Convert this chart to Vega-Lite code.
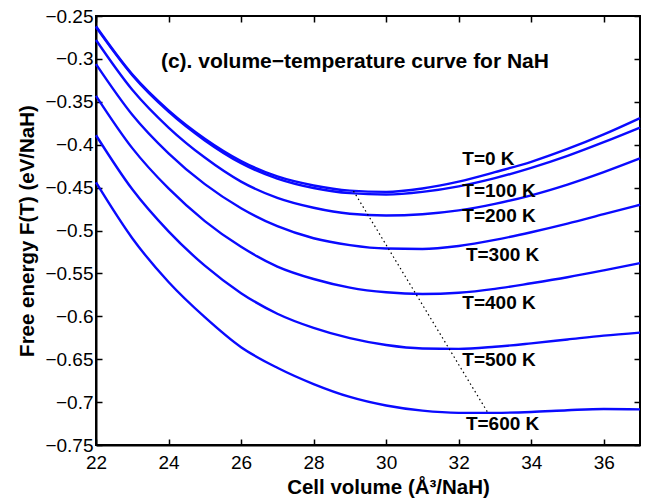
{
  "$schema": "https://vega.github.io/schema/vega-lite/v6.json",
  "width": 544,
  "height": 429,
  "autosize": {"type": "none"},
  "padding": {"left": 96, "top": 16, "right": 9, "bottom": 54},
  "background": "white",
  "config": {
    "font": "Liberation Sans",
    "view": {"stroke": "black", "strokeWidth": 2},
    "axis": {
      "grid": false,
      "domainColor": "black",
      "domainWidth": 2,
      "tickColor": "black",
      "tickWidth": 1.5,
      "tickSize": -6,
      "labelColor": "black",
      "labelFont": "Liberation Sans",
      "labelFontSize": 19,
      "titleFont": "Liberation Sans",
      "titleFontSize": 20.5,
      "titleFontWeight": "bold",
      "titleColor": "black"
    }
  },
  "datasets": {
    "curves": [
      {"T": "0", "V": 22, "F": -0.262}, {"T": "0", "V": 23, "F": -0.318}, {"T": "0", "V": 24, "F": -0.36}, {"T": "0", "V": 25, "F": -0.393},
      {"T": "0", "V": 26, "F": -0.419}, {"T": "0", "V": 27, "F": -0.437}, {"T": "0", "V": 28, "F": -0.4475}, {"T": "0", "V": 29, "F": -0.4535},
      {"T": "0", "V": 30, "F": -0.455}, {"T": "0", "V": 31, "F": -0.451}, {"T": "0", "V": 32, "F": -0.443}, {"T": "0", "V": 33, "F": -0.432},
      {"T": "0", "V": 34, "F": -0.42}, {"T": "0", "V": 35, "F": -0.405}, {"T": "0", "V": 36, "F": -0.388}, {"T": "0", "V": 37, "F": -0.369},

      {"T": "100", "V": 22, "F": -0.263}, {"T": "100", "V": 23, "F": -0.319}, {"T": "100", "V": 24, "F": -0.3615}, {"T": "100", "V": 25, "F": -0.395},
      {"T": "100", "V": 26, "F": -0.4215}, {"T": "100", "V": 27, "F": -0.4395}, {"T": "100", "V": 28, "F": -0.4505}, {"T": "100", "V": 29, "F": -0.4565},
      {"T": "100", "V": 30, "F": -0.458}, {"T": "100", "V": 31, "F": -0.455}, {"T": "100", "V": 32, "F": -0.4485}, {"T": "100", "V": 33, "F": -0.439},
      {"T": "100", "V": 34, "F": -0.427}, {"T": "100", "V": 35, "F": -0.413}, {"T": "100", "V": 36, "F": -0.397}, {"T": "100", "V": 37, "F": -0.38},

      {"T": "200", "V": 22, "F": -0.278}, {"T": "200", "V": 23, "F": -0.336}, {"T": "200", "V": 24, "F": -0.38}, {"T": "200", "V": 25, "F": -0.415},
      {"T": "200", "V": 26, "F": -0.443}, {"T": "200", "V": 27, "F": -0.462}, {"T": "200", "V": 28, "F": -0.4735}, {"T": "200", "V": 29, "F": -0.4805},
      {"T": "200", "V": 30, "F": -0.4825}, {"T": "200", "V": 31, "F": -0.481}, {"T": "200", "V": 32, "F": -0.4765}, {"T": "200", "V": 33, "F": -0.469},
      {"T": "200", "V": 34, "F": -0.459}, {"T": "200", "V": 35, "F": -0.4465}, {"T": "200", "V": 36, "F": -0.432}, {"T": "200", "V": 37, "F": -0.416},

      {"T": "300", "V": 22, "F": -0.306}, {"T": "300", "V": 23, "F": -0.365}, {"T": "300", "V": 24, "F": -0.41}, {"T": "300", "V": 25, "F": -0.446},
      {"T": "300", "V": 26, "F": -0.474}, {"T": "300", "V": 27, "F": -0.495}, {"T": "300", "V": 28, "F": -0.509}, {"T": "300", "V": 29, "F": -0.517},
      {"T": "300", "V": 30, "F": -0.521}, {"T": "300", "V": 31, "F": -0.5215}, {"T": "300", "V": 32, "F": -0.518}, {"T": "300", "V": 33, "F": -0.511},
      {"T": "300", "V": 34, "F": -0.502}, {"T": "300", "V": 35, "F": -0.492}, {"T": "300", "V": 36, "F": -0.481}, {"T": "300", "V": 37, "F": -0.47},

      {"T": "400", "V": 22, "F": -0.343}, {"T": "400", "V": 23, "F": -0.404}, {"T": "400", "V": 24, "F": -0.451}, {"T": "400", "V": 25, "F": -0.489},
      {"T": "400", "V": 26, "F": -0.519}, {"T": "400", "V": 27, "F": -0.542}, {"T": "400", "V": 28, "F": -0.5565}, {"T": "400", "V": 29, "F": -0.5665},
      {"T": "400", "V": 30, "F": -0.572}, {"T": "400", "V": 31, "F": -0.574}, {"T": "400", "V": 32, "F": -0.5725}, {"T": "400", "V": 33, "F": -0.568},
      {"T": "400", "V": 34, "F": -0.5615}, {"T": "400", "V": 35, "F": -0.5545}, {"T": "400", "V": 36, "F": -0.5465}, {"T": "400", "V": 37, "F": -0.538},

      {"T": "500", "V": 22, "F": -0.389}, {"T": "500", "V": 23, "F": -0.452}, {"T": "500", "V": 24, "F": -0.501}, {"T": "500", "V": 25, "F": -0.541},
      {"T": "500", "V": 26, "F": -0.573}, {"T": "500", "V": 27, "F": -0.597}, {"T": "500", "V": 28, "F": -0.6135}, {"T": "500", "V": 29, "F": -0.6255},
      {"T": "500", "V": 30, "F": -0.6335}, {"T": "500", "V": 31, "F": -0.6375}, {"T": "500", "V": 32, "F": -0.638}, {"T": "500", "V": 33, "F": -0.6355},
      {"T": "500", "V": 34, "F": -0.6315}, {"T": "500", "V": 35, "F": -0.627}, {"T": "500", "V": 36, "F": -0.6225}, {"T": "500", "V": 37, "F": -0.619},

      {"T": "600", "V": 22, "F": -0.444}, {"T": "600", "V": 23, "F": -0.509}, {"T": "600", "V": 24, "F": -0.56}, {"T": "600", "V": 25, "F": -0.601},
      {"T": "600", "V": 26, "F": -0.636}, {"T": "600", "V": 27, "F": -0.66}, {"T": "600", "V": 28, "F": -0.679}, {"T": "600", "V": 29, "F": -0.694},
      {"T": "600", "V": 30, "F": -0.704}, {"T": "600", "V": 31, "F": -0.71}, {"T": "600", "V": 32, "F": -0.7125}, {"T": "600", "V": 33, "F": -0.7125},
      {"T": "600", "V": 34, "F": -0.7115}, {"T": "600", "V": 35, "F": -0.7095}, {"T": "600", "V": 36, "F": -0.708}, {"T": "600", "V": 37, "F": -0.7085}
    ],
    "minline": [
      {"V": 29.1, "F": -0.454},
      {"V": 32.8, "F": -0.712}
    ],
    "labels": [
      {"label": "T=0 K", "V": 32.1, "F": -0.4172},
      {"label": "T=100 K", "V": 32.1, "F": -0.454},
      {"label": "T=200 K", "V": 32.1, "F": -0.4836},
      {"label": "T=300 K", "V": 32.2, "F": -0.5285},
      {"label": "T=400 K", "V": 32.1, "F": -0.584},
      {"label": "T=500 K", "V": 32.1, "F": -0.6504},
      {"label": "T=600 K", "V": 32.2, "F": -0.7258}
    ],
    "heading": [
      {"label": "(c). volume−temperature curve for NaH", "V": 29.14, "F": -0.3036}
    ]
  },
  "layer": [
    {
      "data": {"name": "curves"},
      "mark": {"type": "line", "color": "#0a0aff", "strokeWidth": 2.4, "interpolate": "monotone"},
      "encoding": {
        "x": {
          "field": "V", "type": "quantitative",
          "scale": {"domain": [22, 37], "nice": false, "zero": false},
          "axis": {"orient": "bottom", "values": [22, 24, 26, 28, 30, 32, 34, 36], "labelPadding": 14, "titlePadding": 5, "title": "Cell volume (Å³/NaH)", "titleX": 292, "labelFlush": false}
        },
        "y": {
          "field": "F", "type": "quantitative",
          "scale": {"domain": [-0.75, -0.25], "nice": false, "zero": false},
          "axis": {"orient": "left", "values": [-0.75, -0.7, -0.65, -0.6, -0.55, -0.5, -0.45, -0.4, -0.35, -0.3, -0.25], "format": ".2~f", "labelPadding": 9, "titlePadding": 7, "title": "Free energy  F(T) (eV/NaH)", "labelFlush": false}
        },
        "detail": {"field": "T", "type": "nominal"}
      }
    },
    {
      "data": {"name": "minline"},
      "mark": {"type": "line", "color": "black", "strokeWidth": 1.2, "strokeDash": [1.5, 3]},
      "encoding": {
        "x": {
          "field": "V", "type": "quantitative",
          "axis": {"orient": "top", "values": [22, 24, 26, 28, 30, 32, 34, 36], "labels": false, "title": null, "domain": false}
        },
        "y": {
          "field": "F", "type": "quantitative",
          "axis": {"orient": "right", "values": [-0.75, -0.7, -0.65, -0.6, -0.55, -0.5, -0.45, -0.4, -0.35, -0.3, -0.25], "labels": false, "title": null, "domain": false}
        }
      }
    },
    {
      "data": {"name": "labels"},
      "mark": {"type": "text", "align": "left", "baseline": "middle", "fontSize": 19, "fontWeight": "bold", "font": "Liberation Sans", "color": "black"},
      "encoding": {
        "x": {"field": "V", "type": "quantitative", "axis": null},
        "y": {"field": "F", "type": "quantitative", "axis": null},
        "text": {"field": "label"}
      }
    },
    {
      "data": {"name": "heading"},
      "mark": {"type": "text", "align": "center", "baseline": "middle", "fontSize": 21, "fontWeight": "bold", "font": "Liberation Sans", "color": "black"},
      "encoding": {
        "x": {"field": "V", "type": "quantitative", "axis": null},
        "y": {"field": "F", "type": "quantitative", "axis": null},
        "text": {"field": "label"}
      }
    }
  ],
  "resolve": {"axis": {"x": "independent", "y": "independent"}}
}
